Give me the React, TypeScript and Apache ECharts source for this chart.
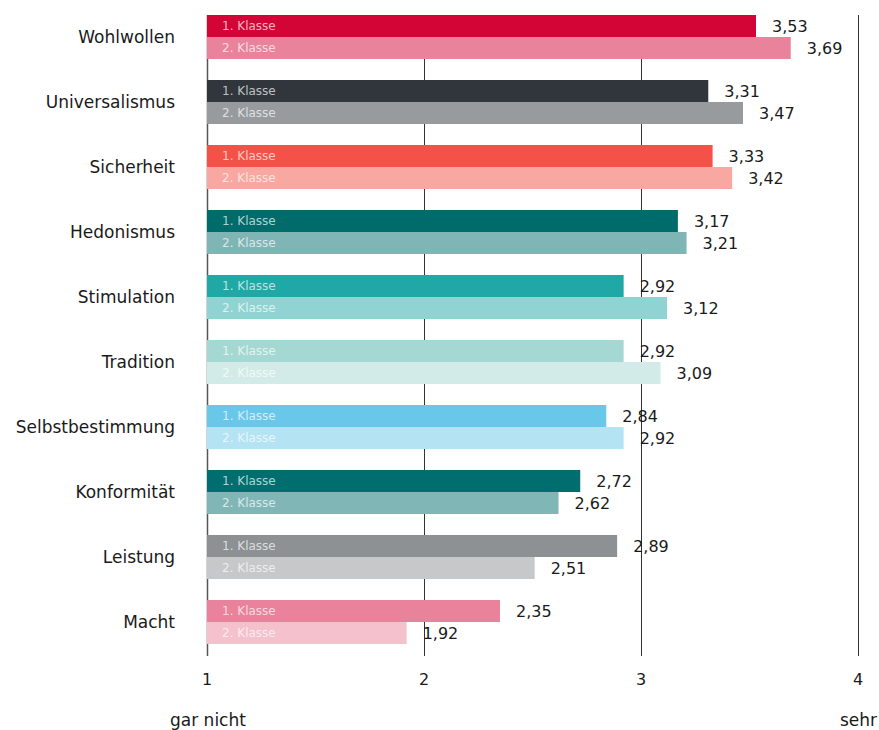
import React, { useEffect, useRef } from "react";
import * as echarts from "echarts";

const categories = [
  "Wohlwollen",
  "Universalismus",
  "Sicherheit",
  "Hedonismus",
  "Stimulation",
  "Tradition",
  "Selbstbestimmung",
  "Konformität",
  "Leistung",
  "Macht",
];
const klasse1 = [3.53, 3.31, 3.33, 3.17, 2.92, 2.92, 2.84, 2.72, 2.89, 2.35];
const klasse2 = [3.69, 3.47, 3.42, 3.21, 3.12, 3.09, 2.92, 2.62, 2.51, 1.92];
const colors1 = [
  "#D30537", "#30363C", "#F45248", "#006B6B", "#20A8A6",
  "#A5D8D2", "#69C8EA", "#006E6E", "#8D9194", "#E8839B",
];
const colors2 = [
  "#E8839B", "#979B9E", "#F8A8A0", "#80B5B5", "#8FD4D2",
  "#D2EBE8", "#B4E3F4", "#80B7B6", "#C7C8C9", "#F4C1CD",
];
const seriesNames = ["1. Klasse", "2. Klasse"];
const xTicks = [1, 2, 3, 4];
const scaleEnds = ["gar nicht", "sehr"];

const FONT = "DejaVu Sans";
const BAR_W = 22;

export default function App() {
  const ref = useRef<HTMLDivElement>(null);
  useEffect(() => {
    if (!ref.current) return;
    const chart = echarts.init(ref.current, null, { renderer: "svg" });
    const fmt = (p: any) => Number(p.value).toFixed(2).replace(".", ",");
    const mainSeries = [klasse1, klasse2].map((vals, si) => ({
      type: "bar",
      name: seriesNames[si],
      xAxisIndex: 0,
      yAxisIndex: 0,
      barWidth: BAR_W,
      barGap: "0%",
      z: 3,
      data: vals.map((v, i) => ({
        value: v,
        itemStyle: { color: (si === 0 ? colors1 : colors2)[i] },
      })),
      label: {
        show: true,
        position: "right",
        distance: 16,
        formatter: fmt,
        fontFamily: FONT,
        fontSize: 16,
        color: "#1a1a1a",
        padding: [0, 0, 2, 0],
      },
    }));
    const overlaySeries = [klasse1, klasse2].map((vals, si) => ({
      type: "bar",
      name: seriesNames[si] + " label",
      xAxisIndex: 0,
      yAxisIndex: 1,
      barWidth: BAR_W,
      barGap: "0%",
      silent: true,
      z: 4,
      itemStyle: { color: "rgba(0,0,0,0)" },
      data: vals.slice(),
      label: {
        show: true,
        position: "insideLeft",
        distance: 15,
        formatter: seriesNames[si],
        fontFamily: FONT,
        fontSize: 12,
        color: "rgba(255,255,255,0.7)",
      },
    }));

    const option: any = {
      animation: false,
      textStyle: { fontFamily: FONT },
      grid: { left: 207, right: 21, top: 4.5, bottom: 75.5, containLabel: false },
      xAxis: {
        type: "value",
        min: xTicks[0],
        max: xTicks[xTicks.length - 1],
        interval: 1,
        startValue: 1,
        axisLine: { show: false },
        axisTick: { show: false },
        splitLine: { show: false },
        axisLabel: {
          show: true,
          margin: 17,
          fontFamily: FONT,
          fontSize: 16,
          color: "#1a1a1a",
        },
      },
      yAxis: [
        {
          type: "category",
          data: categories,
          inverse: true,
          axisLine: { show: false },
          axisTick: { show: false },
          axisLabel: {
            margin: 32,
            fontFamily: FONT,
            fontSize: 17,
            color: "#1a1a1a",
            padding: [0, 0, 4, 0],
          },
        },
        {
          type: "category",
          data: categories,
          inverse: true,
          show: false,
        },
      ],
      series: [...mainSeries, ...overlaySeries],
    };
    chart.setOption(option);

    const yTop =
      (chart.convertToPixel({ yAxisIndex: 0 }, categories[0]) as number) - BAR_W;
    const yBottom =
      (chart.convertToPixel({ yAxisIndex: 0 }, categories[categories.length - 1]) as number) +
      BAR_W + 12;
    const lines = xTicks.map((t) => {
      const x = Math.round(chart.convertToPixel({ xAxisIndex: 0 }, t) as number) + 0.5;
      return {
        type: "line",
        z: 0,
        silent: true,
        shape: { x1: x, y1: yTop, x2: x, y2: yBottom },
        style: { stroke: t === 1 ? "#555" : "#333", lineWidth: t === 1 ? 1.5 : 1 },
      };
    });
    const xLeft = chart.convertToPixel({ xAxisIndex: 0 }, xTicks[0]) as number;
    const xRight = chart.convertToPixel({ xAxisIndex: 0 }, xTicks[xTicks.length - 1]) as number;
    chart.setOption({
      graphic: [
        ...lines,
        {
          type: "text",
          left: xLeft - 37,
          top: 711,
          style: { text: scaleEnds[0], font: `17px '${FONT}'`, fill: "#1a1a1a" },
        },
        {
          type: "text",
          left: xRight - 18,
          top: 711,
          style: { text: scaleEnds[1], font: `17px '${FONT}'`, fill: "#1a1a1a" },
        },
      ],
    });

    return () => chart.dispose();
  }, []);
  return (
    <div
      ref={ref}
      style={{ position: "absolute", left: 0, top: 0, width: 879, height: 730 }}
    />
  );
}
